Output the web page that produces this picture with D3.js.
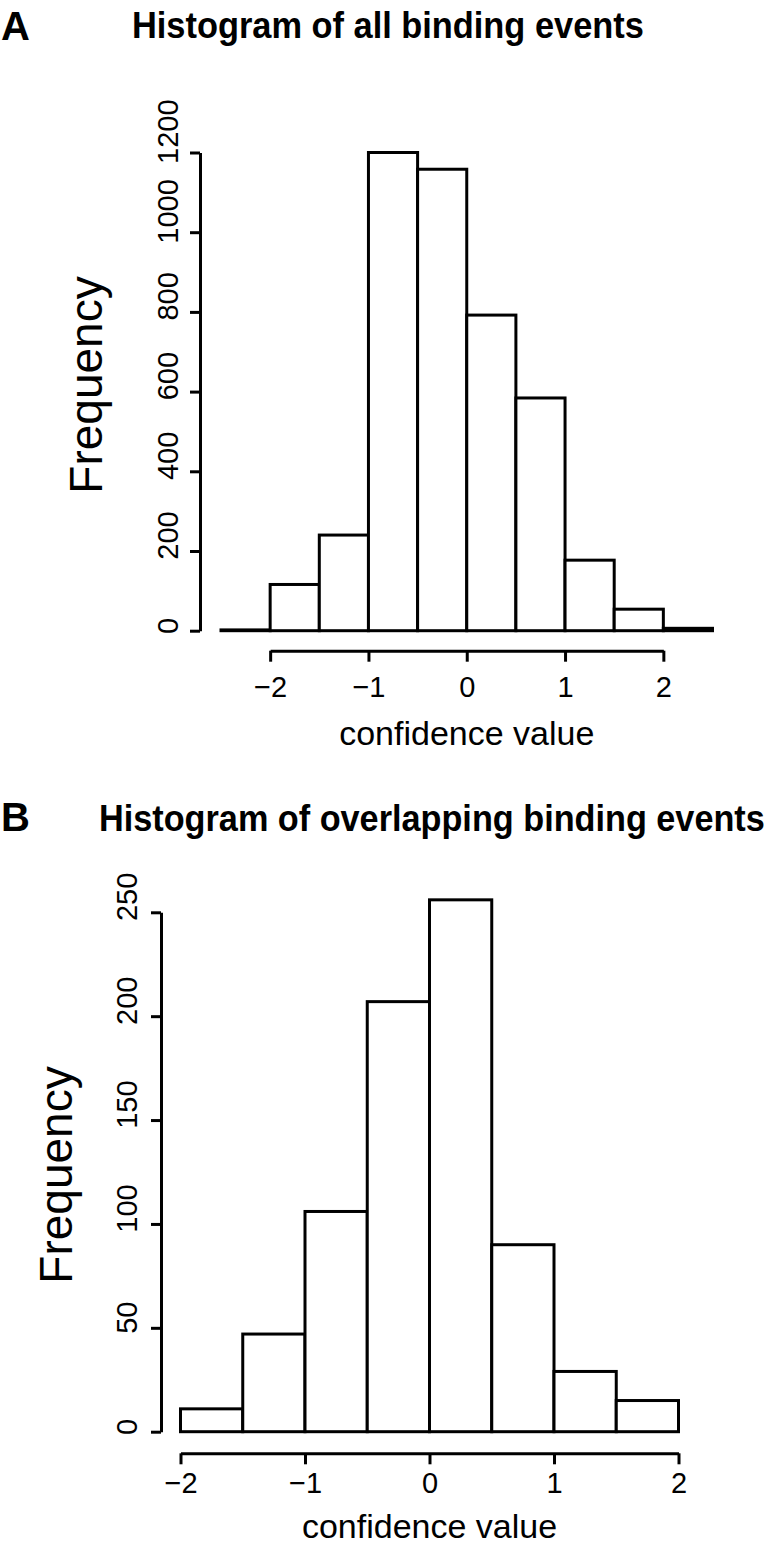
<!DOCTYPE html>
<html><head><meta charset="utf-8">
<script src="https://cdn.jsdelivr.net/npm/d3@7"></script>
<style>
body{margin:0;background:#fff}
svg{display:block}
text{font-family:"Liberation Sans",Arial,Helvetica,sans-serif;fill:#000}
</style>
</head><body>
<svg id="chart" width="775" height="1544"></svg>
<script>
// ---- Panel A data ----
const binEdgesA = [-2.5,-2,-1.5,-1,-0.5,0,0.5,1,1.5,2,2.5];
const countsA   = [2,116,240,1200,1158,792,584,177,54,6];
const yTicksA   = [0,200,400,600,800,1000,1200];
const xTicksA   = [-2,-1,0,1,2];
const titleA    = "Histogram of all binding events";
// ---- Panel B data ----
const binEdgesB = [-2,-1.5,-1,-0.5,0,0.5,1,1.5,2];
const countsB   = [11,47,106,207,256,90,29,15];
const yTicksB   = [0,50,100,150,200,250];
const xTicksB   = [-2,-1,0,1,2];
const titleB    = "Histogram of overlapping binding events";
const xLabel = "confidence value";
const yLabel = "Frequency";

const svg = d3.select("#chart");

function drawPanel(o){
  const g = svg.append("g");
  const x = d3.scaleLinear().domain([o.edges[0], o.edges[o.edges.length-1]]).range(o.xRange);
  const y = d3.scaleLinear().domain([0, o.yTicks[o.yTicks.length-1]]).range(o.yRange);
  const bins = o.counts.map((c,i)=>({x0:o.edges[i], x1:o.edges[i+1], c}));
  // bars
  g.selectAll("rect.bar").data(bins).enter().append("rect")
    .attr("class","bar")
    .attr("x", d=>x(d.x0)).attr("width", d=>x(d.x1)-x(d.x0))
    .attr("y", d=>y(d.c)).attr("height", d=>y(0)-y(d.c))
    .attr("fill","#fff").attr("stroke","#000").attr("stroke-width",3);
  // y axis
  const ya = g.append("g").attr("transform",`translate(${o.yAxisX},0)`)
    .call(d3.axisLeft(y).tickValues(o.yTicks).tickSize(10).tickSizeOuter(0).tickFormat(d3.format("d")));
  ya.select(".domain").attr("stroke-width",3).attr("stroke","#000");
  ya.selectAll(".tick line").attr("stroke-width",3).attr("stroke","#000");
  ya.selectAll(".tick text").each(function(){
    const t = d3.select(this);
    t.attr("x",null).attr("dy",null).attr("font-size",29).attr("text-anchor","middle").attr("fill","#000");
    const len = this.getComputedTextLength();
    t.attr("transform",`translate(${-o.yLabGap},${-0.33*len}) rotate(-90)`);
  });
  // x axis
  const xs = d3.scaleLinear().domain([o.xTicks[0], o.xTicks[o.xTicks.length-1]])
    .range([x(o.xTicks[0]), x(o.xTicks[o.xTicks.length-1])]);
  const xa = g.append("g").attr("transform",`translate(0,${o.xAxisY})`)
    .call(d3.axisBottom(xs).tickValues(o.xTicks).tickSize(11).tickSizeOuter(0).tickFormat(d3.format("d")));
  xa.select(".domain").attr("stroke-width",3).attr("stroke","#000");
  xa.selectAll(".tick line").attr("stroke-width",3).attr("stroke","#000");
  xa.selectAll(".tick text").attr("y",o.xLabOff).attr("dy",null).attr("font-size",29).attr("fill","#000");
  // axis titles
  g.append("text").attr("x", x(0)).attr("y", o.xTitleY).attr("text-anchor","middle")
    .attr("font-size",34).text(xLabel);
  g.append("text").attr("transform",`translate(${o.yTitleX},${o.yTitleY}) rotate(-90)`)
    .attr("text-anchor","middle").attr("font-size",46).text(yLabel);
  // main title (condensed bold, scaled to measured width)
  const tg = g.append("g");
  const tt = tg.append("text").attr("x",0).attr("y",0).attr("text-anchor","start")
    .attr("font-size",37).attr("font-weight","bold").text(o.title);
  const natural = tt.node().getComputedTextLength();
  tg.attr("transform",`translate(${o.titleX},${o.titleY}) scale(${o.titleW/natural},1)`);
  g.append("text").attr("x",1).attr("y",o.letterY).attr("font-size",40).attr("font-weight","bold").text(o.letter);
}

drawPanel({edges:binEdgesA, counts:countsA, yTicks:yTicksA, xTicks:xTicksA, title:titleA, letter:"A",
  xRange:[221,712.5], yRange:[630.7,152.5], yAxisX:200, xAxisY:650.7, yLabGap:22, xLabOff:46,
  xTitleY:745, yTitleX:102, yTitleY:385, titleX:132, titleY:38, titleW:512, letterY:40});
drawPanel({edges:binEdgesB, counts:countsB, yTicks:yTicksB, xTicks:xTicksB, title:titleB, letter:"B",
  xRange:[180.5,678.5], yRange:[1431.7,912.3], yAxisX:161, xAxisY:1453.3, yLabGap:24, xLabOff:40,
  xTitleY:1538, yTitleX:72, yTitleY:1175, titleX:99, titleY:831, titleW:666, letterY:831});
</script>
</body></html>
